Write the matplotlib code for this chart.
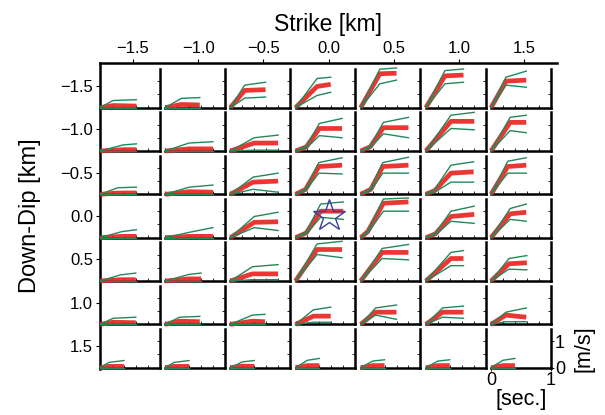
import matplotlib.pyplot as plt
import numpy as np

plt.rcParams['font.family'] = ['Liberation Sans', 'DejaVu Sans']

STRIKE = [-1.5, -1.0, -0.5, 0.0, 0.5, 1.0, 1.5]
DIP = [-1.5, -1.0, -0.5, 0.0, 0.5, 1.0, 1.5]
HYPO = (0.0, 0.0)

# knee and end times of the source time functions [sec], rows = dip, cols = strike
t_knee = [
    [0.22, 0.27, 0.24, 0.36, 0.32, 0.32, 0.25],
    [0.39, 0.40, 0.40, 0.40, 0.38, 0.42, 0.32],
    [0.30, 0.40, 0.38, 0.39, 0.37, 0.42, 0.28],
    [0.37, 0.40, 0.40, 0.42, 0.38, 0.42, 0.32],
    [0.34, 0.40, 0.37, 0.36, 0.36, 0.42, 0.30],
    [0.22, 0.24, 0.37, 0.30, 0.25, 0.28, 0.25],
    [0.15, 0.15, 0.20, 0.20, 0.20, 0.20, 0.20],
]
t_end = [
    [0.61, 0.58, 0.59, 0.59, 0.60, 0.63, 0.59],
    [0.61, 0.80, 0.80, 0.78, 0.80, 0.81, 0.59],
    [0.61, 0.80, 0.80, 0.78, 0.80, 0.80, 0.59],
    [0.61, 0.80, 0.80, 0.80, 0.80, 0.81, 0.59],
    [0.60, 0.60, 0.80, 0.78, 0.80, 0.63, 0.60],
    [0.60, 0.58, 0.58, 0.59, 0.60, 0.63, 0.59],
    [0.40, 0.40, 0.40, 0.40, 0.40, 0.40, 0.40],
]
# slow onset time (0 = none)
t_onset = [
    [0, 0, 0, 0, 0, 0, 0],
    [0, 0, 0, 0.18, 0.16, 0, 0],
    [0, 0, 0, 0.17, 0.17, 0.15, 0],
    [0, 0, 0, 0.18, 0.12, 0.16, 0],
    [0, 0, 0, 0, 0, 0, 0],
    [0, 0, 0, 0, 0, 0, 0],
    [0, 0, 0, 0, 0, 0, 0],
]

# slip-rate [m/s]: best model (red)
red_knee = [
    [0.08, 0.12, 0.65, 0.80, 1.28, 1.20, 1.00],
    [0.05, 0.08, 0.30, 0.85, 0.88, 1.12, 1.08],
    [0.05, 0.10, 0.46, 1.05, 1.05, 0.80, 1.05],
    [0.05, 0.05, 0.58, 1.00, 1.30, 0.80, 0.90],
    [0.05, 0.08, 0.27, 1.19, 1.08, 0.85, 0.65],
    [0.08, 0.12, 0.12, 0.31, 0.46, 0.46, 0.35],
    [0.05, 0.05, 0.06, 0.08, 0.08, 0.08, 0.08],
]
red_end = [
    [0.06, 0.10, 0.68, 0.88, 1.30, 1.23, 1.04],
    [0.05, 0.08, 0.30, 0.85, 0.88, 1.12, 1.08],
    [0.05, 0.08, 0.50, 1.10, 1.10, 0.85, 1.10],
    [0.05, 0.05, 0.60, 1.00, 1.35, 0.88, 0.96],
    [0.05, 0.08, 0.27, 1.19, 1.08, 0.85, 0.69],
    [0.06, 0.10, 0.10, 0.31, 0.46, 0.46, 0.27],
    [0.05, 0.05, 0.05, 0.08, 0.08, 0.08, 0.08],
]
# upper bound (green)
hi_knee = [
    [0.27, 0.35, 0.85, 1.10, 1.45, 1.40, 1.15],
    [0.23, 0.30, 0.50, 1.04, 1.08, 1.35, 1.27],
    [0.25, 0.27, 0.65, 1.20, 1.20, 1.10, 1.25],
    [0.23, 0.20, 0.80, 1.27, 1.46, 1.00, 1.10],
    [0.23, 0.25, 0.54, 1.40, 1.23, 1.08, 0.85],
    [0.23, 0.27, 0.35, 0.55, 0.62, 0.62, 0.46],
    [0.20, 0.20, 0.22, 0.28, 0.25, 0.25, 0.28],
]
hi_end = [
    [0.30, 0.38, 0.96, 1.15, 1.50, 1.46, 1.38],
    [0.27, 0.35, 0.60, 1.23, 1.27, 1.46, 1.35],
    [0.27, 0.35, 0.80, 1.38, 1.40, 1.23, 1.38],
    [0.30, 0.38, 0.96, 1.35, 1.50, 1.19, 1.27],
    [0.30, 0.30, 0.62, 1.50, 1.38, 1.15, 0.96],
    [0.27, 0.30, 0.38, 0.65, 0.73, 0.69, 0.62],
    [0.27, 0.27, 0.27, 0.35, 0.30, 0.30, 0.35],
]
# lower bound (green)
lo_knee = [
    [0.0, 0.0, 0.36, 0.46, 0.90, 0.90, 0.85],
    [0.0, 0.0, 0.03, 0.58, 0.65, 0.85, 0.77],
    [0.0, 0.0, 0.19, 0.80, 0.80, 0.46, 0.80],
    [0.0, 0.0, 0.38, 0.77, 1.00, 0.62, 0.69],
    [0.0, 0.0, 0.05, 1.00, 0.85, 0.58, 0.45],
    [0.0, 0.0, 0.0, 0.08, 0.35, 0.27, 0.10],
    [0.0, 0.0, 0.0, 0.0, 0.0, 0.0, 0.0],
]
lo_end = [
    [0.0, 0.0, 0.40, 0.58, 1.04, 0.96, 0.77],
    [0.0, 0.0, 0.03, 0.50, 0.50, 0.80, 0.69],
    [0.0, 0.0, 0.08, 0.77, 0.80, 0.46, 0.80],
    [0.0, 0.0, 0.27, 0.69, 1.00, 0.54, 0.62],
    [0.0, 0.0, 0.05, 0.88, 0.80, 0.58, 0.42],
    [0.0, 0.0, 0.0, 0.08, 0.19, 0.23, 0.10],
    [0.0, 0.0, 0.0, 0.0, 0.0, 0.0, 0.0],
]

RED = '#e8211d'
GREEN = '#23875a'
STAR = '#3b3f9c'


def stf(i, j, knee, end):
    t = [0.0]
    v = [0.0]
    if t_onset[i][j] > 0:
        t.append(t_onset[i][j])
        v.append(0.18 * knee)
    t += [t_knee[i][j], t_end[i][j]]
    v += [knee, end]
    return t, v


fig = plt.figure(figsize=(6.05, 4.15), dpi=100)
ax = fig.add_axes([100 / 605, 1 - 369 / 415, 457 / 605, 306 / 415])
ax.set_xlim(-1.753, 1.753)
ax.set_ylim(1.765, -1.765)
ax.set_xticks(STRIKE)
ax.set_yticks(DIP)
ax.xaxis.tick_top()
ax.xaxis.set_label_position('top')
ax.spines['right'].set_visible(False)
ax.spines['bottom'].set_visible(False)
for s in ('top', 'left'):
    ax.spines[s].set_linewidth(1.8)
ax.tick_params(labelsize=12, length=3, width=0.8, pad=2)
ax.set_xlabel('Strike [km]', fontsize=16.5, labelpad=7)
ax.set_ylabel('Down-Dip [km]', fontsize=17, labelpad=14)

to_fig = ax.transData + fig.transFigure.inverted()

for i, d in enumerate(DIP):
    for j, s in enumerate(STRIKE):
        (x0, y0) = to_fig.transform((s - 0.253, d + 0.25))
        (x1, y1) = to_fig.transform((s + 0.205, d - 0.196))
        p = fig.add_axes([x0, y0, x1 - x0, y1 - y0])
        p.patch.set_alpha(0)
        p.set_xlim(0, 1)
        p.set_ylim(0, 1.46)
        p.spines['left'].set_visible(False)
        p.spines['top'].set_visible(False)
        p.spines['right'].set_linewidth(1.8)
        p.spines['bottom'].set_linewidth(1.8)
        p.yaxis.tick_right()
        p.set_xticks(np.arange(0, 1.01, 0.2))
        p.set_yticks([0, 0.5, 1.0])
        p.tick_params(direction='in', length=2, width=0.6,
                      labelbottom=False, labelright=False)

        t, v = stf(i, j, red_knee[i][j], red_end[i][j])
        p.plot(t, v, color=RED, lw=3.4, alpha=0.9, zorder=3, clip_on=False,
               solid_capstyle='butt')
        t, v = stf(i, j, hi_knee[i][j], hi_end[i][j])
        p.plot(t, v, color=GREEN, lw=1.0, zorder=4, clip_on=False)
        t, v = stf(i, j, lo_knee[i][j], lo_end[i][j])
        p.plot(t, v, color=GREEN, lw=1.0, zorder=4, clip_on=False)

        if i == len(DIP) - 1 and j == len(STRIKE) - 1:
            p.set_xticks([0, 1])
            p.set_yticks([0, 1])
            p.tick_params(labelbottom=True, labelright=True, labelsize=13,
                          direction='out', length=2, pad=1)
            p.yaxis.set_label_position('right')
            p.set_xlabel('[sec.]', fontsize=15.5, labelpad=0)
            p.set_ylabel('[m/s]', fontsize=15.5, labelpad=6)

# hypocenter star on top of everything
top = fig.add_axes(ax.get_position())
top.set_xlim(ax.get_xlim())
top.set_ylim(ax.get_ylim())
top.axis('off')
top.plot(HYPO[0], HYPO[1], marker='*', ms=24, mfc='none', mec=STAR, mew=1.0)

fig.savefig('out.png', dpi=100)
